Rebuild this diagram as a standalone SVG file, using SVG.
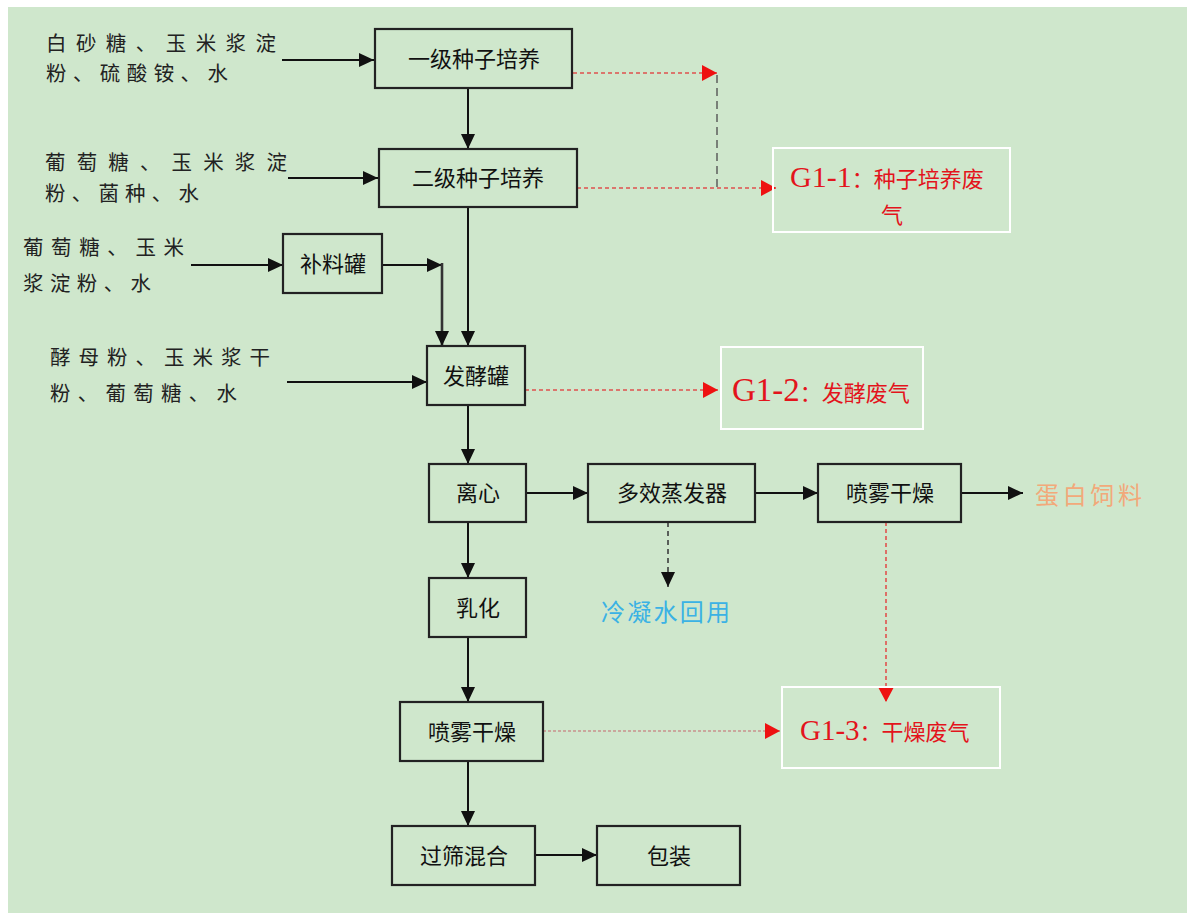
<svg xmlns="http://www.w3.org/2000/svg" width="1187" height="913" viewBox="0 0 1187 913">
<style>
.bg{fill:#cfe7cc}
.node{fill:none;stroke:#222;stroke-width:2.2}
.gbox{fill:none;stroke:#fff;stroke-width:2}
.nt{font-family:"Noto Sans CJK SC","Noto Sans",sans-serif;font-size:22px;fill:#111;text-anchor:middle}
.it{font-family:"Noto Sans CJK SC","Noto Sans",sans-serif;font-size:20.5px;fill:#222}
.gt{font-family:"Noto Sans CJK SC",sans-serif;font-size:22px;fill:#e3141c}
.gs{font-family:"Liberation Serif",serif}
.ln{fill:none;stroke:#111;stroke-width:2}
.dk{fill:none;stroke:#333;stroke-width:1.5;stroke-dasharray:5 4}
.rd{fill:none;stroke:#e0524e;stroke-width:1.6;stroke-dasharray:4 3}
.gd{fill:none;stroke:#555;stroke-width:1.4;stroke-dasharray:8 5}
</style>
<defs>
<marker id="ab" markerUnits="userSpaceOnUse" markerWidth="16" markerHeight="14" viewBox="0 0 16 14" refX="15" refY="7" orient="auto"><path d="M0,0 L15,7 L0,14 Z" fill="#111"/></marker>
<marker id="ar" markerUnits="userSpaceOnUse" markerWidth="16" markerHeight="16" viewBox="0 0 16 16" refX="15" refY="8" orient="auto"><path d="M0,0 L15,8 L0,16 Z" fill="#ee1111"/></marker>
</defs>
<rect x="0" y="0" width="1187" height="913" fill="#fff"/>
<rect class="bg" x="8" y="7" width="1179" height="906"/>

<g id="connectors">
<path class="ln" d="M282,60 H374" marker-end="url(#ab)"/>
<path class="ln" d="M288,178 H378" marker-end="url(#ab)"/>
<path class="ln" d="M191,265 H283" marker-end="url(#ab)"/>
<path class="ln" d="M287,382 H427" marker-end="url(#ab)"/>
<path class="ln" d="M468,88 V149" marker-end="url(#ab)"/>
<path class="ln" d="M468,207 V346" marker-end="url(#ab)"/>
<path class="ln" d="M382,265 H442" marker-end="url(#ab)"/>
<path class="ln" d="M442,263 V346" style="stroke:#333;stroke-width:2.6" marker-end="url(#ab)"/>
<path class="ln" d="M468,405 V464" marker-end="url(#ab)"/>
<path class="ln" d="M526,493 H588" marker-end="url(#ab)"/>
<path class="ln" d="M755,493 H818" marker-end="url(#ab)"/>
<path class="ln" d="M961,493 H1023" marker-end="url(#ab)"/>
<path class="dk" d="M668,522 V587" marker-end="url(#ab)"/>
<path class="ln" d="M468,522 V578" marker-end="url(#ab)"/>
<path class="ln" d="M468,637 V702" marker-end="url(#ab)"/>
<path class="ln" d="M468,761 V826" marker-end="url(#ab)"/>
<path class="ln" d="M535,855 H597" marker-end="url(#ab)"/>
<path class="rd" d="M573,73 H717" marker-end="url(#ar)"/>
<path class="gd" d="M717,75 V187"/>
<path class="rd" d="M577,188 H776" marker-end="url(#ar)"/>
<path class="rd" d="M525,390 H718" marker-end="url(#ar)"/>
<path class="rd" d="M886,522 V702" marker-end="url(#ar)"/>
<path class="rd" d="M543,731 H780" style="stroke:#c9928c;stroke-dasharray:3 2" marker-end="url(#ar)"/>
</g>

<g id="in1">
<text class="it" x="46" y="51" textLength="230" lengthAdjust="spacing">白砂糖、玉米浆淀</text>
<text class="it" x="46" y="81" textLength="182" lengthAdjust="spacing">粉、硫酸铵、水</text>
</g>
<g id="in2">
<text class="it" x="45" y="170" textLength="242" lengthAdjust="spacing">葡萄糖、玉米浆淀</text>
<text class="it" x="45" y="201" textLength="154" lengthAdjust="spacing">粉、菌种、水</text>
</g>
<g id="in3">
<text class="it" x="23" y="255" textLength="161" lengthAdjust="spacing">葡萄糖、玉米</text>
<text class="it" x="23" y="291" textLength="128" lengthAdjust="spacing">浆淀粉、水</text>
</g>
<g id="in4">
<text class="it" x="50" y="365" textLength="220" lengthAdjust="spacing">酵母粉、玉米浆干</text>
<text class="it" x="50" y="401" textLength="187" lengthAdjust="spacing">粉、葡萄糖、水</text>
</g>

<g id="n1"><rect class="node" x="375" y="29" width="197" height="59"/><text class="nt" x="474" y="67">一级种子培养</text></g>
<g id="n2"><rect class="node" x="379" y="149" width="198" height="58"/><text class="nt" x="478" y="186">二级种子培养</text></g>
<g id="n3"><rect class="node" x="283" y="234" width="99" height="59"/><text class="nt" x="333" y="272">补料罐</text></g>
<g id="n4"><rect class="node" x="427" y="346" width="98" height="59"/><text class="nt" x="476" y="384">发酵罐</text></g>
<g id="n5"><rect class="node" x="429" y="464" width="97" height="58"/><text class="nt" x="478" y="501">离心</text></g>
<g id="n6"><rect class="node" x="588" y="464" width="167" height="58"/><text class="nt" x="672" y="501">多效蒸发器</text></g>
<g id="n7"><rect class="node" x="818" y="464" width="143" height="58"/><text class="nt" x="890" y="501">喷雾干燥</text></g>
<g id="n8"><rect class="node" x="429" y="578" width="97" height="59"/><text class="nt" x="478" y="616">乳化</text></g>
<g id="n9"><rect class="node" x="400" y="702" width="143" height="59"/><text class="nt" x="472" y="740">喷雾干燥</text></g>
<g id="n10"><rect class="node" x="392" y="826" width="143" height="59"/><text class="nt" x="464" y="864">过筛混合</text></g>
<g id="n11"><rect class="node" x="597" y="826" width="143" height="59"/><text class="nt" x="669" y="864">包装</text></g>

<g id="out1"><text x="1035" y="504" style="font-family:'Noto Sans CJK SC',sans-serif;font-size:24px;fill:#f2a97a" textLength="107" lengthAdjust="spacing">蛋白饲料</text></g>
<g id="out2"><text x="601" y="621" style="font-family:'Noto Sans CJK SC',sans-serif;font-size:24px;fill:#3bb2e4" textLength="129" lengthAdjust="spacing">冷凝水回用</text></g>

<g id="g11"><rect class="gbox" x="773" y="148" width="237" height="84"/>
<text class="gt" x="790" y="187"><tspan class="gs" style="font-size:30px">G1-1</tspan>：种子培养废</text>
<text class="gt" x="892" y="223" text-anchor="middle">气</text></g>
<g id="g12"><rect class="gbox" x="721" y="347" width="202" height="82"/>
<text class="gt" x="732" y="401"><tspan class="gs" style="font-size:33px">G1-2</tspan>：发酵废气</text></g>
<g id="g13"><rect class="gbox" x="782" y="687" width="218" height="81"/>
<text class="gt" x="800" y="740"><tspan class="gs" style="font-size:29px">G1-3</tspan>：干燥废气</text></g>
</svg>
